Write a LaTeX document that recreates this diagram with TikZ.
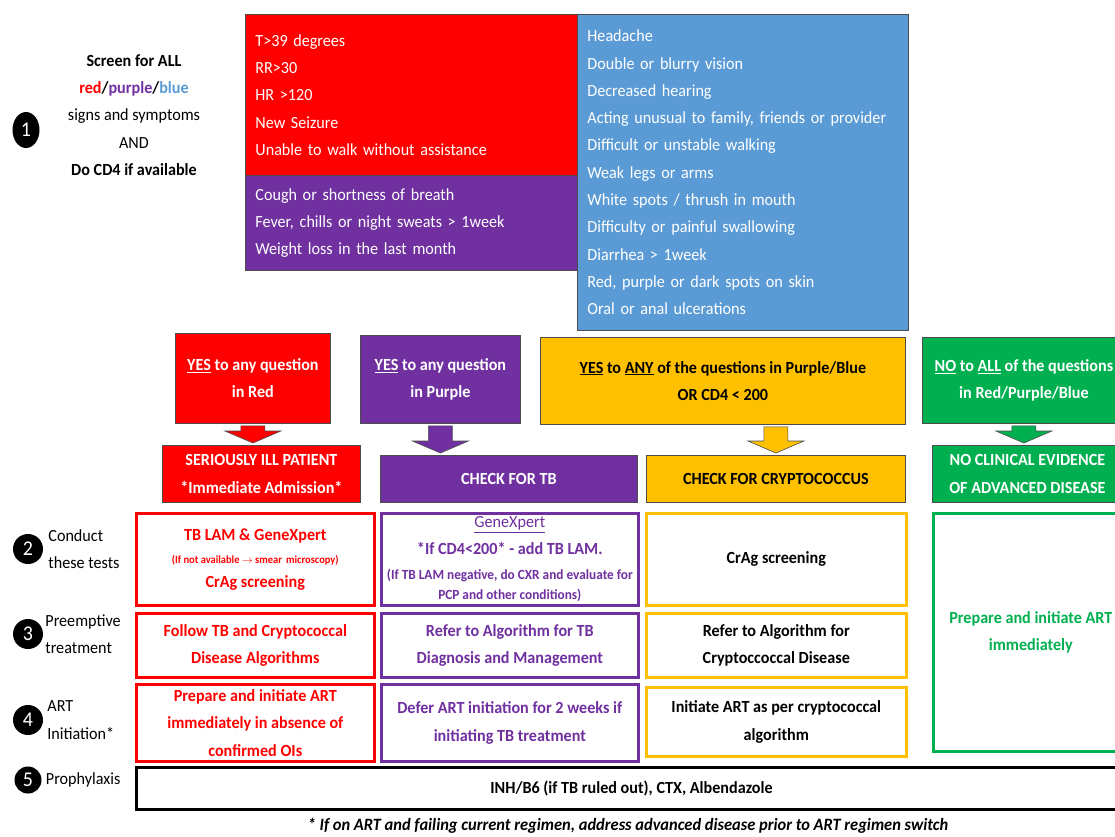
\documentclass[tikz,border=0pt]{standalone}
\usepackage{fontspec}
\setmainfont{Carlito}[FakeStretch=0.95]
\usetikzlibrary{calc,positioning,shapes.geometric}

\definecolor{cred}{HTML}{FF0000}
\definecolor{cpurple}{HTML}{7030A0}
\definecolor{cblue}{HTML}{5B9BD5}
\definecolor{cyellow}{HTML}{FFC000}
\definecolor{cgreen}{HTML}{00B050}

\newcommand\fs{\fontsize{17}{27.3}\selectfont}
\newcommand\fsmall{\fontsize{11}{18}\selectfont}
\newcommand\fnote{\fontsize{14}{20}\selectfont}

\tikzset{
  box/.style={anchor=north west, inner sep=0pt, align=center, font=\fs\bfseries},
  fillbox/.style={box, draw=black!70, line width=0.8pt, fill=#1, text=white},
  linebox/.style={box, draw=#1, line width=2.6pt, text=#1},
  symbox/.style={anchor=north west, inner xsep=10pt, inner ysep=0pt, align=left,
    font=\fs, draw=black!70, line width=0.8pt, fill=#1, text=white},
  numdot/.style={circle, fill=black, text=white, minimum size=30pt, inner sep=0pt,
    font=\fontsize{21}{21}\selectfont},
  rowlabel/.style={anchor=west, align=left, font=\fs, inner sep=0pt},
}

% block arrow: from, to, x reference, colour
\newcommand\blockarrow[4]{%
  \filldraw[fill=#4, draw=black!70, line width=0.6pt]
    let \p1=(#1.south), \p2=(#2.north), \p3=(#3) in
    (\x3-12pt,\y1-2pt) -- (\x3+12pt,\y1-2pt) -- (\x3+12pt,\y2+14pt) -- (\x3+28pt,\y2+14pt)
    -- (\x3,\y2+2pt) -- (\x3-28pt,\y2+14pt) -- (\x3-12pt,\y2+14pt) -- cycle;}

\begin{document}
\begin{tikzpicture}[x=1pt, y=-1pt]
  \clip (0,0) rectangle (1115,836);
  \fill[white] (0,0) rectangle (1115,836);

  \node[numdot, ellipse, minimum width=27pt, minimum height=36pt] (n1) at (26,130) {1};
  \node[align=center, font=\fs] (screen) at (134,115)
    {\textbf{Screen for ALL}\\
     \textbf{\textcolor{cred}{red}/\textcolor{cpurple}{purple}/\textcolor{cblue}{blue}}\\
     signs and symptoms\\AND\\\textbf{Do CD4 if available}};

  \node[symbox=cred, text width=313pt, minimum height=161pt] (redsym) at (245,14)
    {T>39 degrees\\RR>30\\HR >120\\New Seizure\\Unable to walk without assistance};
  \node[symbox=cpurple, text width=313pt, minimum height=95pt] (purpsym) at (245,175)
    {Cough or shortness of breath\\Fever, chills or night sweats > 1week\\Weight loss in the last month};
  \node[symbox=cblue, text width=311pt, minimum height=316pt] (bluesym) at (577,14)
    {Headache\\Double or blurry vision\\Decreased hearing\\Acting unusual to family, friends or provider\\
     Difficult or unstable walking\\Weak legs or arms\\White spots / thrush in mouth\\
     Difficulty or painful swallowing\\Diarrhea > 1week\\Red, purple or dark spots on skin\\Oral or anal ulcerations};

  \node[fillbox=cred, minimum width=155pt, minimum height=90pt] (yesred) at (175,333)
    {\underline{YES} to any question\\in Red};
  \node[fillbox=cpurple, minimum width=160pt, minimum height=88pt] (yespurple) at (360,335)
    {\underline{YES} to any question\\in Purple};
  \node[fillbox=cyellow, text=black, minimum width=365pt, minimum height=87pt] (yesyellow) at (540,337)
    {\underline{YES} to \underline{ANY} of the questions in Purple/Blue\\OR CD4 < 200};
  \node[fillbox=cgreen, minimum width=203pt, minimum height=86pt] (yesgreen) at (922,337)
    {\underline{NO} to \underline{ALL} of the questions\\in Red/Purple/Blue};

  \node[fillbox=cred, minimum width=198pt, minimum height=57pt] (ill) at (162,445)
    {SERIOUSLY ILL PATIENT\\*Immediate Admission*};
  \node[fillbox=cpurple, minimum width=257pt, minimum height=47pt] (checktb) at (380,455)
    {CHECK FOR TB};
  \node[fillbox=cyellow, text=black, minimum width=259pt, minimum height=47pt] (checkcr) at (646,455)
    {CHECK FOR CRYPTOCOCCUS};
  \node[fillbox=cgreen, minimum width=190pt, minimum height=57pt] (noevid) at (932,445)
    {NO CLINICAL EVIDENCE\\OF ADVANCED DISEASE};

  \blockarrow{yesred}{ill}{yesred.south}{cred}
  \blockarrow{yespurple}{checktb}{yespurple.south}{cpurple}
  \blockarrow{yesyellow}{checkcr}{checkcr.north}{cyellow}
  \blockarrow{yesgreen}{noevid}{yesgreen.south}{cgreen}

  \node[linebox=cred, minimum width=238pt, minimum height=92pt] (testred) at (135,512)
    {TB LAM \& GeneXpert\\[-4pt]{\fsmall (If not available $\rightarrow$ smear\, microscopy)}\\[-4pt]CrAg screening};
  \node[linebox=cpurple, minimum width=257pt, minimum height=92pt] (testpurple) at (380,512)
    {{\mdseries\underline{GeneXpert}}\\[-1pt]*If CD4<200* - add TB LAM.\\[-2pt]
     {\fnote (If TB LAM negative, do CXR and evaluate for}\\[-7pt]{\fnote PCP and other conditions)}};
  \node[linebox=cyellow, text=black, minimum width=260pt, minimum height=92pt] (testyellow) at (645,512)
    {CrAg screening};
  \node[linebox=cgreen, minimum width=195pt, minimum height=238pt] (artgreen) at (932,512)
    {Prepare and initiate ART\\immediately};

  \node[linebox=cred, minimum width=238pt, minimum height=64pt] (treatred) at (135,612)
    {Follow TB and Cryptococcal\\Disease Algorithms};
  \node[linebox=cpurple, minimum width=257pt, minimum height=64pt] (treatpurple) at (380,612)
    {Refer to Algorithm for TB\\Diagnosis and Management};
  \node[linebox=cyellow, text=black, minimum width=260pt, minimum height=64pt] (treatyellow) at (645,612)
    {Refer to Algorithm for\\Cryptoccoccal Disease};

  \node[linebox=cred, minimum width=238pt, minimum height=77pt] (artred) at (135,683)
    {Prepare and initiate ART\\immediately in absence of\\confirmed OIs};
  \node[linebox=cpurple, minimum width=257pt, minimum height=77pt] (artpurple) at (380,683)
    {Defer ART initiation for 2 weeks if\\initiating TB treatment};
  \node[linebox=cyellow, text=black, minimum width=260pt, minimum height=69pt] (artyellow) at (645,686)
    {Initiate ART as per cryptococcal\\algorithm};

  \node[linebox=black, line width=3pt, minimum width=990pt, minimum height=42pt] (proph) at (135,766)
    {INH/B6 (if TB ruled out), CTX, Albendazole};

  \node[numdot] (n2) at (28,549) {2};
  \node[rowlabel, right=5pt of n2] (l2) {Conduct\\these tests};
  \node[numdot] (n3) at (28,634) {3};
  \node[rowlabel, right=2pt of n3] (l3) {Preemptive\\treatment};
  \node[numdot] (n4) at (28,720) {4};
  \node[rowlabel, right=4pt of n4] (l4) {ART\\Initiation*};
  \node[numdot, minimum size=27pt] (n5) at (28,780) {5};
  \node[rowlabel, right=4pt of n5] (l5) {Prophylaxis};

  \node[font=\fontsize{17.3}{17}\selectfont\bfseries\itshape] (note) at (628,826)
    {* If on ART and failing current regimen, address advanced disease prior to ART regimen switch};
\end{tikzpicture}
\end{document}
